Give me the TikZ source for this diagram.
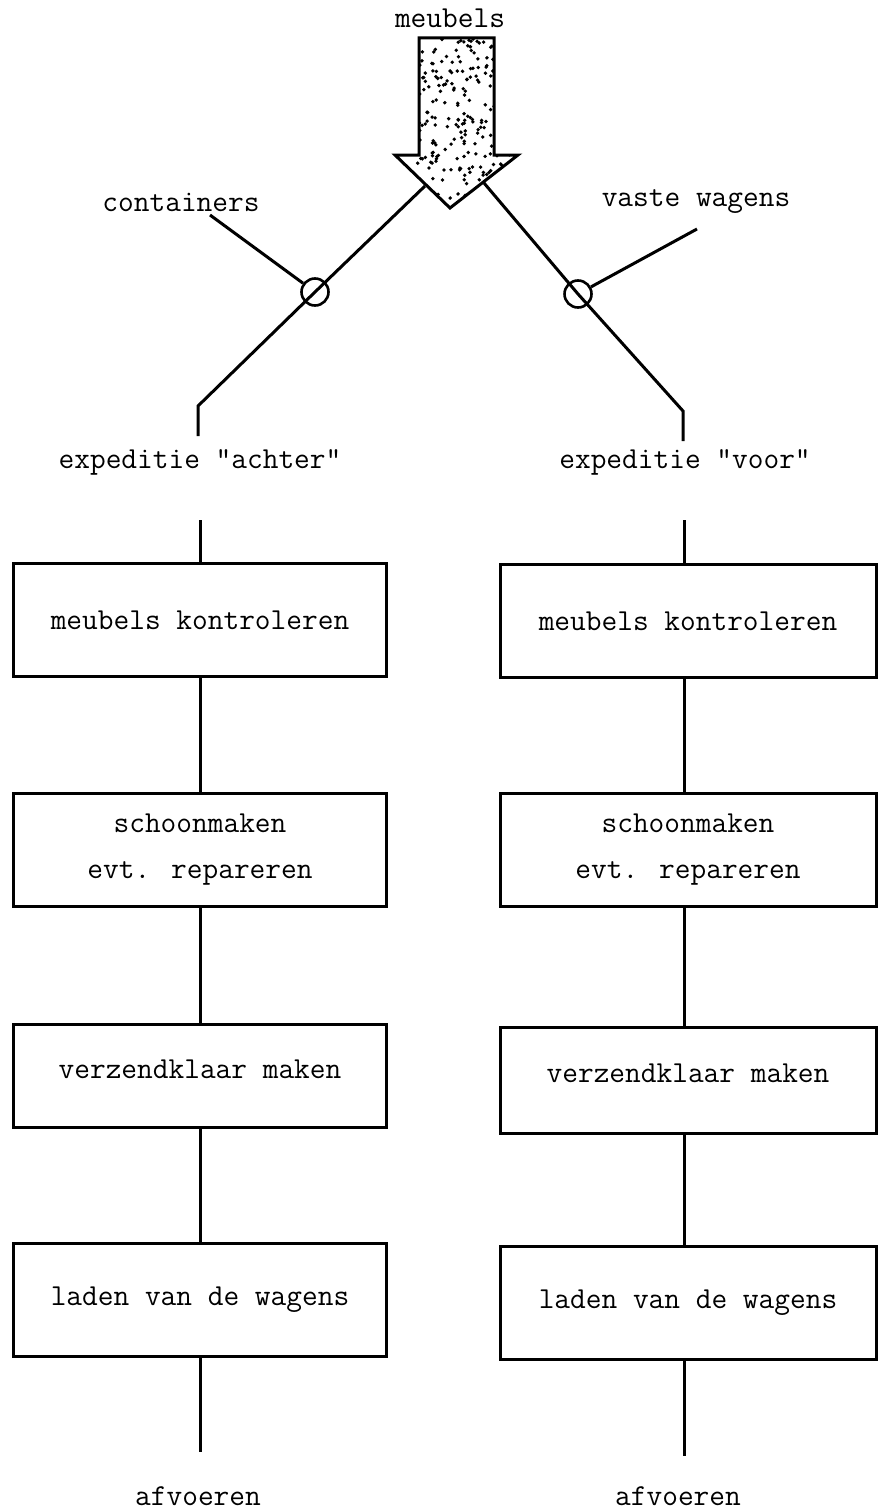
\documentclass[tikz,border=0pt]{standalone}
\usepackage{fontspec}
\begin{document}
\begin{tikzpicture}[x=1pt,y=-1pt,
  every node/.style={font=\ttfamily\fontsize{30.5}{46}\selectfont\addfontfeature{FakeBold=0.8}},
  ln/.style={line width=3pt},
  stepbox/.style={draw,line width=3pt,minimum height=113pt,inner sep=0pt,align=center},
  lbl/.style={inner sep=0pt},
  ring/.style={circle,draw,line width=2.6pt,minimum size=27pt,inner sep=0pt}]
\useasboundingbox (0,0) rectangle (878,1512);

% top arrow
\coordinate (a1) at (419,38);
\coordinate (a2) at (494,38);
\coordinate (a3) at (494,155);
\coordinate (a4) at (518,155);
\coordinate (tip) at (450,208);
\coordinate (a6) at (395,155);
\coordinate (a7) at (419,155);
\begin{scope}
  \clip (a1) -- (a2) -- (a3) -- (a4) -- (tip) -- (a6) -- (a7) -- cycle;
  \pgfmathsetseed{11}
  \foreach \i in {1,...,300}{
    \pgfmathsetmacro\px{395+rnd*123}
    \pgfmathsetmacro\py{38+rnd*170}
    \fill (\px,\py) circle (1.9pt);
  }
\end{scope}
\draw[line width=3pt,line join=miter] (a1) -- (a2) -- (a3) -- (a4) -- (tip) -- (a6) -- (a7) -- cycle;
\node[lbl] (meubels) at (450,18) {meubels};

% labels
\node[lbl] (containers) at (181,202) {containers};
\node[lbl] (vaste) at (696,202) {vaste wagens};
\node[lbl] (expA) at (200,462) {expeditie "achter"};
\node[lbl] (expV) at (685,462) {expeditie "voor"};

% circles
\node[ring] (cL) at (315,292) {};
\node[ring] (cR) at (578,294) {};

% branches
\coordinate (bL0) at (425,186);
\coordinate (bL1) at (198,406);
\coordinate (bL2) at (198,436);
\coordinate (bR0) at (484,183);
\coordinate (bR1) at (683,411);
\coordinate (bR2) at (683,441);
\draw[ln,line join=miter] (bL0) -- (cL.center) -- (bL1) -- (bL2);
\draw[ln,line join=miter] (bR0) -- (cR.center) -- (bR1) -- (bR2);
\coordinate (cont) at (210,215);
\coordinate (vw) at (697,229);
\draw[ln] (cont) -- (cL);
\draw[ln] (vw) -- (cR);

% left column
\node[stepbox,minimum width=373pt] (L1) at (200,620) {meubels kontroleren};
\node[stepbox,minimum width=373pt] (L2) at (200,850) {schoonmaken\\evt. repareren};
\node[stepbox,minimum width=373pt,minimum height=103pt] (L3) at (200,1076) {\raisebox{7pt}[\height][\depth]{verzendklaar maken}};
\node[stepbox,minimum width=373pt] (L4) at (200,1300) {laden van de wagens};
% right column
\node[stepbox,minimum width=376pt] (R1) at (688,621) {meubels kontroleren};
\node[stepbox,minimum width=376pt] (R2) at (688,850) {schoonmaken\\evt. repareren};
\node[stepbox,minimum width=376pt,minimum height=106pt] (R3) at (688,1080) {\raisebox{7pt}[\height][\depth]{verzendklaar maken}};
\node[stepbox,minimum width=376pt] (R4) at (688,1303) {laden van de wagens};

\coordinate (tL) at (200,520);
\coordinate (tR) at (684,520);
\coordinate (eL) at (200,1452);
\coordinate (eR) at (684,1456);
\draw[ln] (tL) -- (tL |- L1.north);
\draw[ln] (tR) -- (tR |- R1.north);
\draw[ln] (L1.south) -- (L2.north);
\draw[ln] (L2.south) -- (L3.north);
\draw[ln] (L3.south) -- (L4.north);
\draw[ln] (L4.south) -- (eL);
\draw[ln] (tR |- R1.south) -- (tR |- R2.north);
\draw[ln] (tR |- R2.south) -- (tR |- R3.north);
\draw[ln] (tR |- R3.south) -- (tR |- R4.north);
\draw[ln] (tR |- R4.south) -- (eR);

\node[lbl] (afL) at (198,1496) {afvoeren};
\node[lbl] (afR) at (678,1496) {afvoeren};
\end{tikzpicture}
\end{document}
